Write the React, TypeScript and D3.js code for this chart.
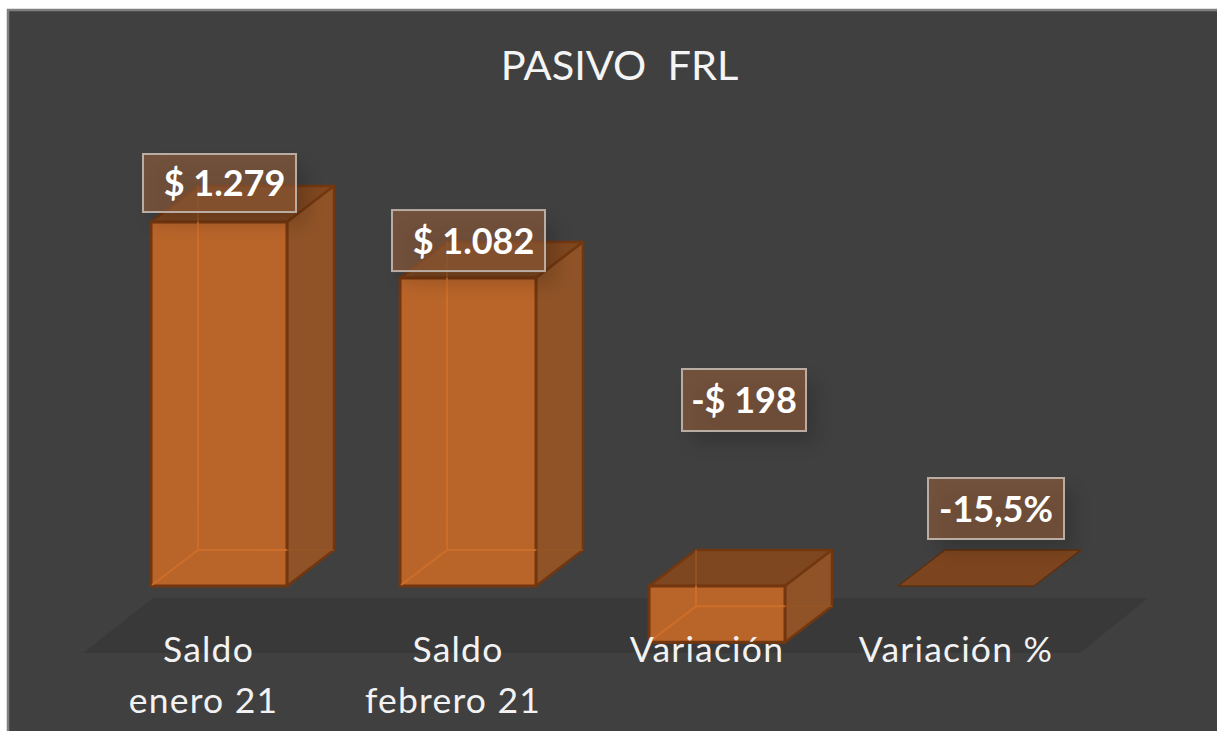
import React from 'react'
import * as d3 from 'd3'

const categories = ['Saldo enero 21', 'Saldo febrero 21', 'Variación', 'Variación %']
const axisLines = [['Saldo', 'enero 21'], ['Saldo', 'febrero 21'], ['Variación'], ['Variación %']]
const values = [1279, 1082, -198, -0.155]
const valueLabels = ['$ 1.279', '$ 1.082', '-$ 198', '-15,5%']

const W = 1217
const H = 731
const depthX = 47
const depthY = -36
const font = 'Lato, "Noto Sans", sans-serif'

const x = d3.scaleBand().domain(categories).range([94.5, 1090.5]).paddingInner(0.454).paddingOuter(0.227)
const y = d3.scaleLinear().domain([0, 1279]).range([586, 222])

// data label boxes were moved by hand in the original chart
const labelBoxes = [
  { dx: 0.5, top: (i: number) => y(values[i]) - 68, w: 153, h: 58 },
  { dx: 0.5, top: (i: number) => y(values[i]) - 68, w: 153, h: 61 },
  { dx: 27, top: () => y(0) - 217, w: 124, h: 62 },
  { dx: 30, top: () => y(0) - 108, w: 136, h: 61 },
]

const poly = (pts: number[][]) => d3.line()(pts as [number, number][]) + 'Z'

function Bar({ cat, value }: { cat: string; value: number }) {
  const x0 = x(cat)!
  const x1 = x0 + x.bandwidth()
  const yTop = y(Math.max(value, 0))
  const yBot = y(Math.min(value, 0))
  const dx = depthX
  const dy = depthY
  const flat = yBot - yTop < 1
  const edge = '#733710'
  if (flat) {
    return (
      <path d={poly([[x0, yTop], [x0 + dx, yTop + dy], [x1 + dx, yTop + dy], [x1, yTop]])}
        fill="#7D451F" stroke="#5f2f0e" strokeWidth={1.5} strokeLinejoin="round" />
    )
  }
  return (
    <g strokeLinejoin="round">
      {/* inside of the box, seen through the faces */}
      <path d={poly([[x0, yTop], [x0 + dx, yTop + dy], [x1 + dx, yTop + dy], [x1, yTop]])} fill="#7E4720" stroke={edge} strokeWidth={2.5} />
      <path d={poly([[x1, yTop], [x1 + dx, yTop + dy], [x1 + dx, yBot + dy], [x1, yBot]])} fill="#8F5327" stroke={edge} strokeWidth={2.5} />
      <path d={poly([[x0, yTop], [x1, yTop], [x1, yBot], [x0, yBot]])} fill="#B9652A" stroke={edge} strokeWidth={3} />
      <g stroke="#D0702A" strokeWidth={2} fill="none" opacity={0.85}>
        <path d={d3.line()([[x0 + dx, Math.max(yTop + dy, yTop)], [x0 + dx, yBot + dy]])!} />
        <path d={d3.line()([[x0 + dx, yBot + dy], [x1, yBot + dy]])!} />
        <path d={d3.line()([[x0 + 1, yBot - 1], [x0 + dx, yBot + dy]])!} />
      </g>
      <path d={d3.line()([[x0 + dx, yTop + dy], [x0 + dx, yTop]])!} stroke="#9a5622" strokeWidth={1.5} />
      <path d={d3.line()([[x1, yBot + dy], [x1 + dx, yBot + dy]])!} stroke="#9a5622" strokeWidth={1.5} opacity={0.7} />
    </g>
  )
}

export default function App() {
  return (
    <svg width={W} height={H} viewBox={`0 0 ${W} ${H}`}
      style={{ position: 'fixed', left: 0, top: 0, display: 'block' }}>
      <defs>
        <filter id="soft" x="-30%" y="-30%" width="170%" height="180%">
          <feGaussianBlur stdDeviation="9" />
        </filter>
      </defs>
      <rect x={0} y={0} width={W} height={H} fill="#ffffff" />
      <rect x={8} y={10} width={W} height={H} fill="#404040" stroke="#7f7f7f" strokeWidth={2.5} />

      <text x={619.5} y={80} textAnchor="middle" fontFamily={font} fontSize={41.5} fill="#f4f4f4" xmlSpace="preserve">PASIVO  FRL</text>

      {/* floor */}
      <path d={poly([[153, 598], [1148, 598], [1080, 653], [83, 653]])} fill="#393939" />

      {categories.map((c, i) => <Bar key={c} cat={c} value={values[i]} />)}

      {categories.map((c, i) => {
        const cx = x(c)! + x.bandwidth() / 2
        return axisLines[i].map((t, j) => (
          <text key={t} x={cx - 10 - j * 5 - (i === 0 ? 0.5 : 0)}
            y={662 + j * 51} textAnchor="middle" fontFamily={font} fontSize={35.5} letterSpacing={1.2} fill="#f2f2f2">{t}</text>
        ))
      })}

      {categories.map((c, i) => {
        const b = labelBoxes[i]
        const cx = x(c)! + x.bandwidth() / 2 + b.dx
        const top = b.top(i)
        return (
          <g key={c}>
            <rect x={cx - b.w / 2 + 10} y={top + 12} width={b.w} height={b.h} fill="#000" opacity={0.16} filter="url(#soft)" />
            <rect x={cx - b.w / 2} y={top} width={b.w} height={b.h} fill="#935D3B" fillOpacity={0.61} stroke="#b9aca3" strokeWidth={2} />
            <text x={cx + (i < 2 ? 5 : 0)} y={top + b.h / 2 + 13} textAnchor="middle" fontFamily={font} fontWeight={700} fontSize={36} fill="#ffffff">{valueLabels[i]}</text>
          </g>
        )
      })}
    </svg>
  )
}
